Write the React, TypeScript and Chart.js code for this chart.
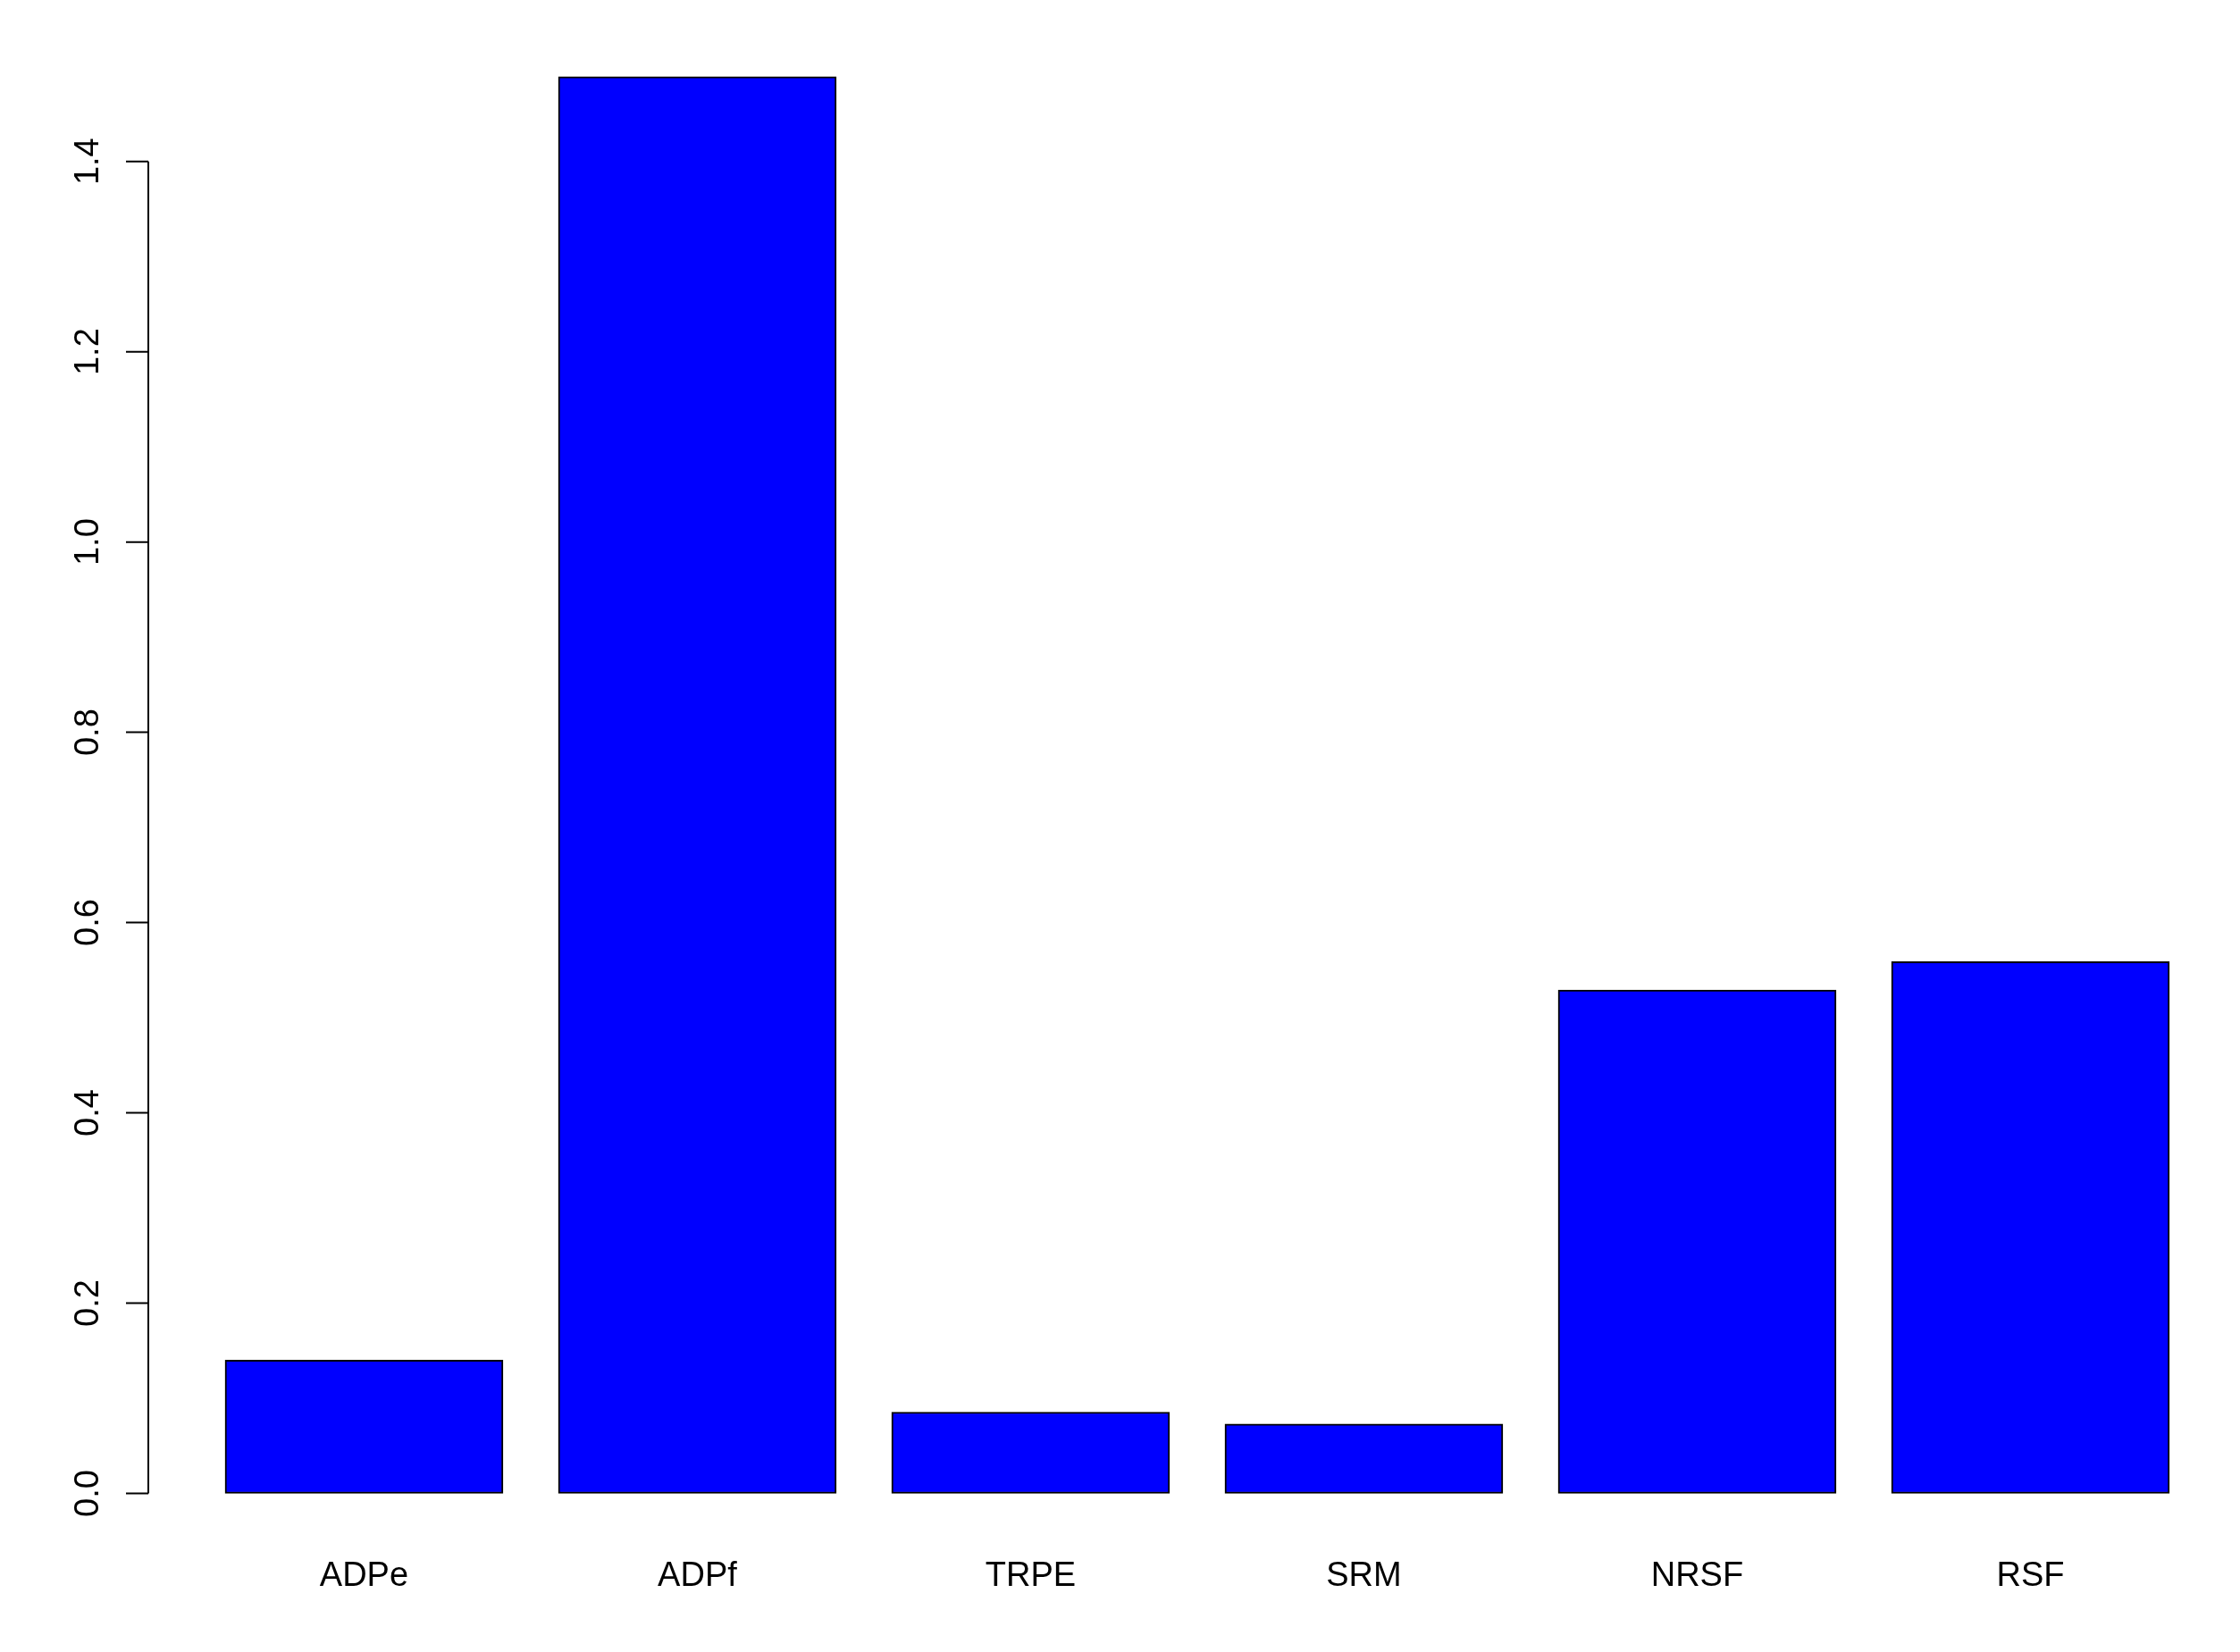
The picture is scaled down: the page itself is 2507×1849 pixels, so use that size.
import React, { useEffect, useRef } from "react";
import { Chart, registerables } from "chart.js";

Chart.register(...registerables);

const categories: string[] = ["ADPe", "ADPf", "TRPE", "SRM", "NRSF", "RSF"];
const values: number[] = [0.14, 1.489, 0.0855, 0.073, 0.529, 0.559];
const yTickValues: number[] = [0, 0.2, 0.4, 0.6, 0.8, 1.0, 1.2, 1.4];

const W = 2507;
const H = 1849;
const FONT = "Liberation Sans, Arial, Helvetica, sans-serif";

const rAxisPlugin = {
  id: "rAxis",
  afterDraw(chart: any) {
    const ctx = chart.ctx as CanvasRenderingContext2D;
    const y = chart.scales.y;
    const x0 = chart.chartArea.left + 1;
    const top = y.getPixelForValue(yTickValues[yTickValues.length - 1]);
    const bottom = y.getPixelForValue(yTickValues[0]);
    ctx.save();
    ctx.strokeStyle = "#000";
    ctx.lineWidth = 2;
    ctx.beginPath();
    ctx.moveTo(x0, top);
    ctx.lineTo(x0, bottom);
    ctx.stroke();
    ctx.beginPath();
    yTickValues.forEach((v) => {
      const py = y.getPixelForValue(v);
      ctx.moveTo(x0, py);
      ctx.lineTo(x0 - 25, py);
    });
    ctx.stroke();
    ctx.fillStyle = "#000";
    ctx.font = `38px ${FONT}`;
    ctx.textAlign = "center";
    ctx.textBaseline = "alphabetic";
    yTickValues.forEach((v) => {
      const py = y.getPixelForValue(v);
      ctx.save();
      ctx.translate(110, py);
      ctx.rotate(-Math.PI / 2);
      ctx.fillText(v.toFixed(1), 0, 0);
      ctx.restore();
    });
    ctx.restore();
  },
};

export default function App() {
  const ref = useRef<HTMLCanvasElement | null>(null);
  useEffect(() => {
    document.body.style.margin = "0";
    const canvas = ref.current;
    if (!canvas) return;
    const chart = new Chart(canvas, {
      type: "bar",
      data: {
        datasets: [
          {
            data: values.map((v, i) => ({ x: i, y: v })),
            backgroundColor: "#0000FF",
            borderColor: "#000000",
            borderWidth: 2,
            borderSkipped: false,
            barThickness: 311,
          } as any,
        ],
      },
      options: {
        animation: false,
        responsive: false,
        devicePixelRatio: 1,
        layout: { padding: { left: 0, right: 0, top: 22, bottom: 0 } },
        plugins: { legend: { display: false }, tooltip: { enabled: false } },
        scales: {
          x: {
            type: "linear",
            offset: false,
            min: -0.65,
            max: -0.65 + (W - 165) / 373,
            grid: { display: false },
            border: { display: false },
            afterBuildTicks: (s: any) => {
              s.ticks = categories.map((_, i) => ({ value: i }));
            },
            afterFit: (s: any) => {
              s.height = H - 1735;
            },
            ticks: {
              autoSkip: false,
              maxRotation: 0,
              minRotation: 0,
              padding: -1,
              color: "#000",
              font: { family: FONT, size: 38 },
              callback: (v: any) => categories[Math.round(Number(v))] ?? "",
            },
          },
          y: {
            type: "linear",
            min: -0.0596,
            max: 1.549,
            grid: { display: false },
            border: { display: false },
            ticks: { display: false },
            afterFit: (s: any) => {
              s.width = 165;
            },
          },
        },
      } as any,
      plugins: [rAxisPlugin],
    });
    return () => chart.destroy();
  }, []);
  return (
    <canvas
      ref={ref}
      width={W}
      height={H}
      style={{ display: "block", width: W, height: H, background: "#fff" }}
    />
  );
}
